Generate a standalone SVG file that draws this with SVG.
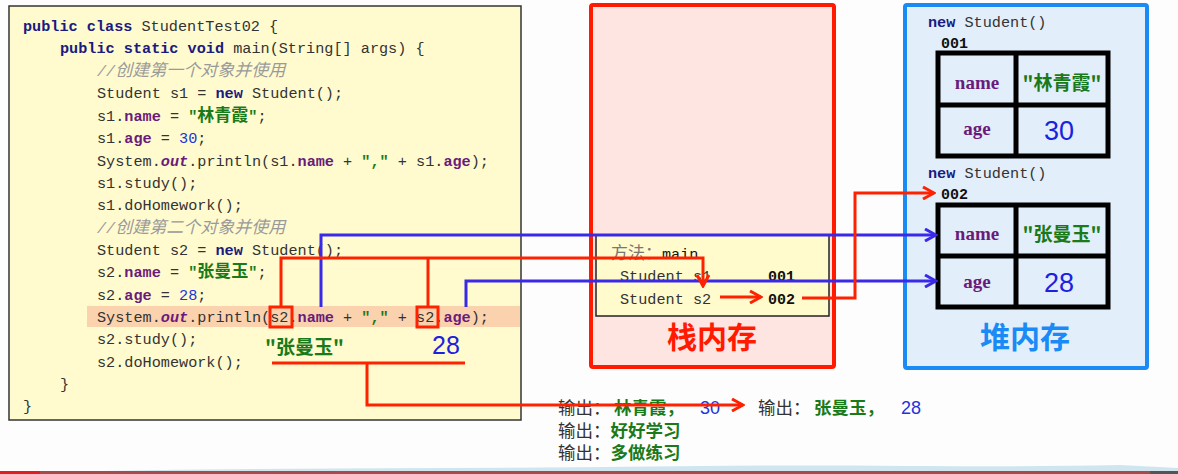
<svg xmlns="http://www.w3.org/2000/svg" width="1178" height="474" viewBox="0 0 1178 474">
<defs>
<style>
.code{font-family:"Liberation Mono","Noto Sans CJK SC",monospace;font-size:15.2px;fill:#333;white-space:pre}
.kw{font-weight:bold;fill:#1a1a80}
.fld{font-weight:bold;fill:#6a1b7a}
.str{font-weight:bold;fill:#1a7a1a}
.cjk{font-family:"Noto Sans CJK SC",sans-serif;font-size:17px}
.num{fill:#2233dd}
.cmt{font-style:italic;fill:#9a9a9a}
.out{font-style:italic;font-weight:bold;fill:#6a1b7a}
.big{font-family:"Noto Sans CJK SC",sans-serif;font-size:30px;font-weight:bold;text-anchor:middle}
.cell{font-family:"Liberation Serif","Noto Sans CJK SC",serif;font-size:19px;font-weight:bold;fill:#6a1b7a;text-anchor:middle}
.cellv{font-family:"Noto Sans CJK SC",sans-serif;font-size:19px;font-weight:bold;fill:#1a7a1a;text-anchor:middle}
.celln{font-family:"Liberation Sans","DejaVu Sans",sans-serif;font-size:27px;fill:#1a22e0;text-anchor:middle}
.addr{font-family:"Liberation Mono",monospace;font-size:15px;font-weight:bold;fill:#111}
.res{font-family:"Noto Sans CJK SC",sans-serif;font-size:17.5px;fill:#333}
.resg{font-family:"Noto Sans CJK SC",sans-serif;font-size:17.5px;font-weight:bold;fill:#1a7a1a}
.resn{font-family:"Liberation Sans",sans-serif;font-size:18px;fill:#2233dd}
.tbl{fill:none;stroke:#000;stroke-width:5}
.red{fill:none;stroke:#ff2200;stroke-width:3}
.blue{fill:none;stroke:#3a2ae8;stroke-width:3}
</style>
<marker id="ar" viewBox="0 0 14 14" refX="12" refY="7" markerWidth="14" markerHeight="14" markerUnits="userSpaceOnUse" orient="auto">
<path d="M1,1 L12,7 L1,13" fill="none" stroke="#ff2200" stroke-width="3"/>
</marker>
<marker id="ab" viewBox="0 0 14 14" refX="12" refY="7" markerWidth="14" markerHeight="14" markerUnits="userSpaceOnUse" orient="auto">
<path d="M1,1 L12,7 L1,13" fill="none" stroke="#3a2ae8" stroke-width="3"/>
</marker>
</defs>
<rect width="1178" height="474" fill="#fdfdfd"/>

<g id="code">
<rect x="9" y="6" width="512" height="414" fill="#fffbcf" stroke="#333" stroke-width="1.5"/>
<rect x="87" y="306" width="433" height="21" fill="#fbd2ae"/>
<text class="code" x="23" y="31"><tspan class="kw">public class</tspan> StudentTest02 {</text>
<text class="code" x="60" y="53"><tspan class="kw">public static void</tspan> main(String[] args) {</text>
<text class="code cmt" x="97" y="76">//<tspan class="cjk">创建第一个对象并使用</tspan></text>
<text class="code" x="97" y="98">Student s1 = <tspan class="kw">new</tspan> Student();</text>
<text class="code" x="97" y="121">s1.<tspan class="fld">name</tspan> = <tspan class="str">"<tspan class="cjk">林青霞</tspan>"</tspan>;</text>
<text class="code" x="97" y="143">s1.<tspan class="fld">age</tspan> = <tspan class="num">30</tspan>;</text>
<text class="code" x="97" y="166">System.<tspan class="out">out</tspan>.println(s1.<tspan class="fld">name</tspan> + <tspan class="str">","</tspan> + s1.<tspan class="fld">age</tspan>);</text>
<text class="code" x="97" y="188">s1.study();</text>
<text class="code" x="97" y="210">s1.doHomework();</text>
<text class="code cmt" x="97" y="233">//<tspan class="cjk">创建第二个对象并使用</tspan></text>
<text class="code" x="97" y="255">Student s2 = <tspan class="kw">new</tspan> Student();</text>
<text class="code" x="97" y="277">s2.<tspan class="fld">name</tspan> = <tspan class="str">"<tspan class="cjk">张曼玉</tspan>"</tspan>;</text>
<text class="code" x="97" y="300">s2.<tspan class="fld">age</tspan> = <tspan class="num">28</tspan>;</text>
<text class="code" x="97" y="322">System.<tspan class="out">out</tspan>.println(s2.<tspan class="fld">name</tspan> + <tspan class="str">","</tspan> + s2.<tspan class="fld">age</tspan>);</text>
<text class="code" x="97" y="344">s2.study();</text>
<text class="code" x="97" y="367">s2.doHomework();</text>
<text class="code" x="60" y="389">}</text>
<text class="code" x="23" y="411">}</text>
<text x="265" y="354" font-family="Noto Sans CJK SC,sans-serif" font-size="19" font-weight="bold" fill="#1a7a1a">"张曼玉"</text>
<text x="432" y="354" font-family="Liberation Sans,sans-serif" font-size="25" fill="#1a22e0">28</text>
</g>

<g id="stack">
<rect x="591" y="5" width="243" height="362" rx="2" fill="#ffe5e2" stroke="#ff1a00" stroke-width="4"/>
<rect x="596" y="235" width="233" height="81" fill="#fffbcc" stroke="#222" stroke-width="1.5"/>
<text class="code" x="611" y="259" fill="#555"><tspan class="cjk" fill="#777">方法：</tspan><tspan fill="#111">main</tspan></text>
<text class="code" x="620" y="281" fill="#555">Student s1</text>
<text class="addr" x="768" y="281">001</text>
<text class="code" x="620" y="304" fill="#555">Student s2</text>
<text class="addr" x="768" y="304">002</text>
<text class="big" x="712" y="348" fill="#ff1a00">栈内存</text>
</g>

<g id="heap">
<rect x="905" y="5" width="242" height="363" rx="2" fill="#e2eefa" stroke="#1a8af5" stroke-width="4"/>
<text class="code" x="928" y="27"><tspan class="kw">new</tspan> Student()</text>
<text class="addr" x="941" y="48">001</text>
<g id="obj1">
<rect class="tbl" x="938" y="53" width="170" height="103"/>
<line class="tbl" x1="1016" y1="53" x2="1016" y2="156"/>
<line class="tbl" x1="938" y1="105" x2="1108" y2="105"/>
<text class="cell" x="977" y="89">name</text>
<text class="cell" x="977" y="135">age</text>
<text class="cellv" x="1062" y="90">"林青霞"</text>
<text class="celln" x="1059" y="140">30</text>
</g>
<text class="code" x="928" y="178"><tspan class="kw">new</tspan> Student()</text>
<text class="addr" x="941" y="199">002</text>
<g id="obj2">
<rect class="tbl" x="938" y="205" width="170" height="102"/>
<line class="tbl" x1="1016" y1="205" x2="1016" y2="307"/>
<line class="tbl" x1="938" y1="256" x2="1108" y2="256"/>
<text class="cell" x="977" y="240">name</text>
<text class="cell" x="977" y="288">age</text>
<text class="cellv" x="1062" y="241">"张曼玉"</text>
<text class="celln" x="1059" y="292">28</text>
</g>
<text class="big" x="1025" y="348" fill="#1a8af5">堆内存</text>
</g>

<g id="output">
<text class="res" x="558" y="414">输出：</text>
<text class="resg" x="614" y="414">林青霞，</text>
<text class="resn" x="700" y="414">30</text>
<text class="res" x="758" y="414">输出：</text>
<text class="resg" x="814" y="414">张曼玉，</text>
<text class="resn" x="901" y="414">28</text>
<text class="res" x="558" y="437">输出：<tspan class="resg">好好学习</tspan></text>
<text class="res" x="558" y="459">输出：<tspan class="resg">多做练习</tspan></text>
</g>

<g id="connectors">
<rect class="red" x="270" y="307" width="22" height="20"/>
<rect class="red" x="417" y="307" width="21" height="20"/>
<path class="blue" d="M321,307 V235 H936" marker-end="url(#ab)"/>
<path class="blue" d="M466,307 V281 H936" marker-end="url(#ab)"/>
<path class="red" d="M281,307 V258 H703 V286" marker-end="url(#ar)"/>
<path class="red" d="M428,307 V258"/>
<path class="red" d="M720,297 H761" marker-end="url(#ar)"/>
<path class="red" d="M802,298 H855 V193 H934" marker-end="url(#ar)"/>
<path class="red" d="M272,363 H465"/>
<path class="red" d="M367,363 V405 H743" marker-end="url(#ar)"/>
</g>

<g id="footer">
<path d="M100,471 C300,467 500,469 700,466 C850,464 1000,468 1120,465 L1178,468 L1178,472 L100,472 Z" fill="#cfe6ef"/>
<rect x="0" y="471" width="1178" height="3" fill="#a84a4a"/>
<rect x="0" y="471" width="40" height="3" fill="#e02020"/>
<rect x="1150" y="471" width="28" height="3" fill="#555"/>
</g>
</svg>
